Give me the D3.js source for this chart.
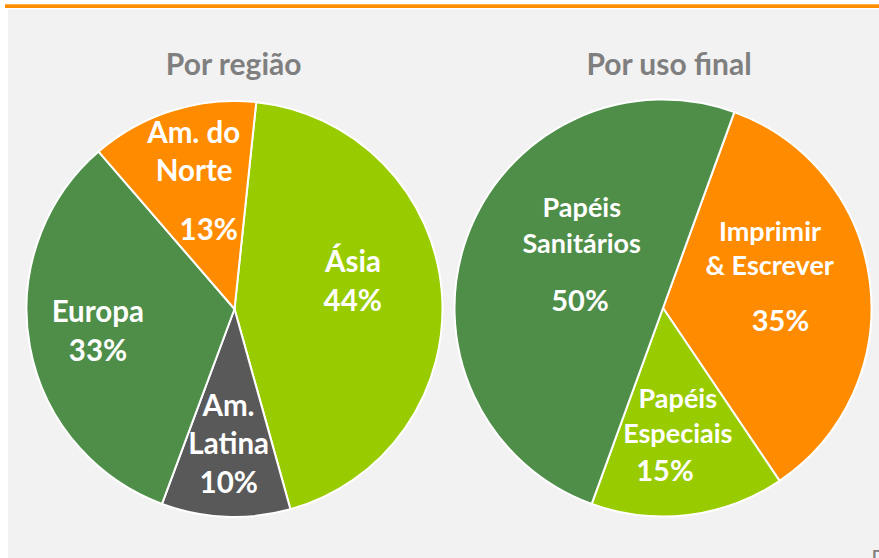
<!DOCTYPE html>
<html>
<head>
<meta charset="utf-8">
<script src="https://cdn.jsdelivr.net/npm/d3@7"></script>
<style>
  body { margin: 0; background: #ffffff; }
  svg { display: block; font-family: Lato, "Open Sans", sans-serif; }
</style>
</head>
<body>
<svg id="chart" width="879" height="558"></svg>
<script>
// Por região
const REGION_NAMES = ["Ásia", "Am. Latina", "Europa", "Am. do Norte"]
const REGION_VALUES = [44, 10, 33, 13]
const REGION_COLORS = ["#99cc00", "#595959", "#4e8e49", "#ff8c00"]

// Por uso final
const USE_NAMES = ["Imprimir & Escrever", "Papéis Especiais", "Papéis Sanitários"]
const USE_VALUES = [35, 15, 50]
const USE_COLORS = ["#ff8c00", "#99cc00", "#4e8e49"]

// label line breaks
const LINE_BREAKS = {
    "Ásia": ["Ásia"],
    "Am. Latina": ["Am.", "Latina"],
    "Europa": ["Europa"],
    "Am. do Norte": ["Am. do", "Norte"],
    "Imprimir & Escrever": ["Imprimir", "& Escrever"],
    "Papéis Especiais": ["Papéis", "Especiais"],
    "Papéis Sanitários": ["Papéis", "Sanitários"]
}

// label placement, offsets of each line baseline from the pie centre
const LABEL_LAYOUT = {
    "Ásia": {lines: [[118.5, -37.3]], pct: [118.3, 1.7]},
    "Am. Latina": {lines: [[-6, 107], [-5.8, 145]], pct: [-5.7, 183.7]},
    "Europa": {lines: [[-136.7, 12.7]], pct: [-136.5, 51.7]},
    "Am. do Norte": {lines: [[-40.8, -165.7], [-40.3, -128.3]], pct: [-25.7, -69]},
    "Imprimir & Escrever": {lines: [[107, -66.7], [106.7, -32.7]], pct: [117.5, 23.3]},
    "Papéis Especiais": {lines: [[14.8, 100], [14.8, 135]], pct: [2, 173.3]},
    "Papéis Sanitários": {lines: [[-81.2, -90.7], [-81.3, -55]], pct: [-83, 2.7]}
}

const WIDTH = 879
const HEIGHT = 558
const svg = d3.select("#chart")

// frame
svg.append("rect")
    .attr("x", 8).attr("y", 9.5)
    .attr("width", WIDTH - 8).attr("height", HEIGHT - 9.5)
    .attr("fill", "#f2f2f2")
svg.append("rect")
    .attr("x", 5).attr("y", 4)
    .attr("width", WIDTH - 5).attr("height", 4)
    .attr("fill", "#ff8c00")
svg.append("rect")
    .attr("x", 5).attr("y", 4)
    .attr("width", WIDTH - 5).attr("height", 1)
    .attr("fill", "#ffb04d")

function drawPie(opts) {
    const data = opts.names.map((name, i) => ({name: name, value: opts.values[i]}))
    const color = d3.scaleOrdinal().domain(opts.names).range(opts.colors)

    const start = opts.startDeg * Math.PI / 180
    const pie = d3.pie()
        .sort(null)
        .value(d => d.value)
        .startAngle(start)
        .endAngle(start + 2 * Math.PI)
    const arc = d3.arc().innerRadius(0).outerRadius(opts.radius)

    const g = svg.append("g")
        .attr("transform", `translate(${opts.cx}, ${opts.cy})`)

    g.selectAll("path.slice")
        .data(pie(data))
        .join("path")
        .attr("class", "slice")
        .attr("d", arc)
        .attr("fill", d => color(d.data.name))
        .attr("stroke", "#ffffff")
        .attr("stroke-width", 2)
        .attr("stroke-linejoin", "round")

    // labels
    data.forEach(d => {
        const layout = LABEL_LAYOUT[d.name]
        LINE_BREAKS[d.name].forEach((line, i) => {
            g.append("text")
                .attr("x", layout.lines[i][0])
                .attr("y", layout.lines[i][1])
                .attr("text-anchor", "middle")
                .attr("font-size", opts.nameSize)
                .attr("font-weight", "bold")
                .attr("fill", "#ffffff")
                .text(line)
        })
        g.append("text")
            .attr("x", layout.pct[0])
            .attr("y", layout.pct[1])
            .attr("text-anchor", "middle")
            .attr("font-size", opts.pctSize)
            .attr("font-weight", "bold")
            .attr("fill", "#ffffff")
            .text(d.value + "%")
    })

    svg.append("text")
        .attr("x", opts.titleX)
        .attr("y", 75)
        .attr("text-anchor", "middle")
        .attr("font-size", 30)
        .attr("font-weight", "bold")
        .attr("fill", "#7f7f7f")
        .text(opts.title)
}

drawPie({
    title: "Por região", titleX: 233.7,
    names: REGION_NAMES, values: REGION_VALUES, colors: REGION_COLORS,
    cx: 234.5, cy: 309, radius: 208, startDeg: 6,
    nameSize: 29.5, pctSize: 29.5
})

drawPie({
    title: "Por uso final", titleX: 669,
    names: USE_NAMES, values: USE_VALUES, colors: USE_COLORS,
    cx: 663, cy: 308, radius: 208.5, startDeg: 20,
    nameSize: 27, pctSize: 29
})

// source note, cut off at the corner as in the original
svg.append("text")
    .attr("x", 872)
    .attr("y", 561)
    .attr("font-size", 16)
    .attr("font-weight", "bold")
    .attr("fill", "#7f7f7f")
    .text("D")
</script>
</body>
</html>
